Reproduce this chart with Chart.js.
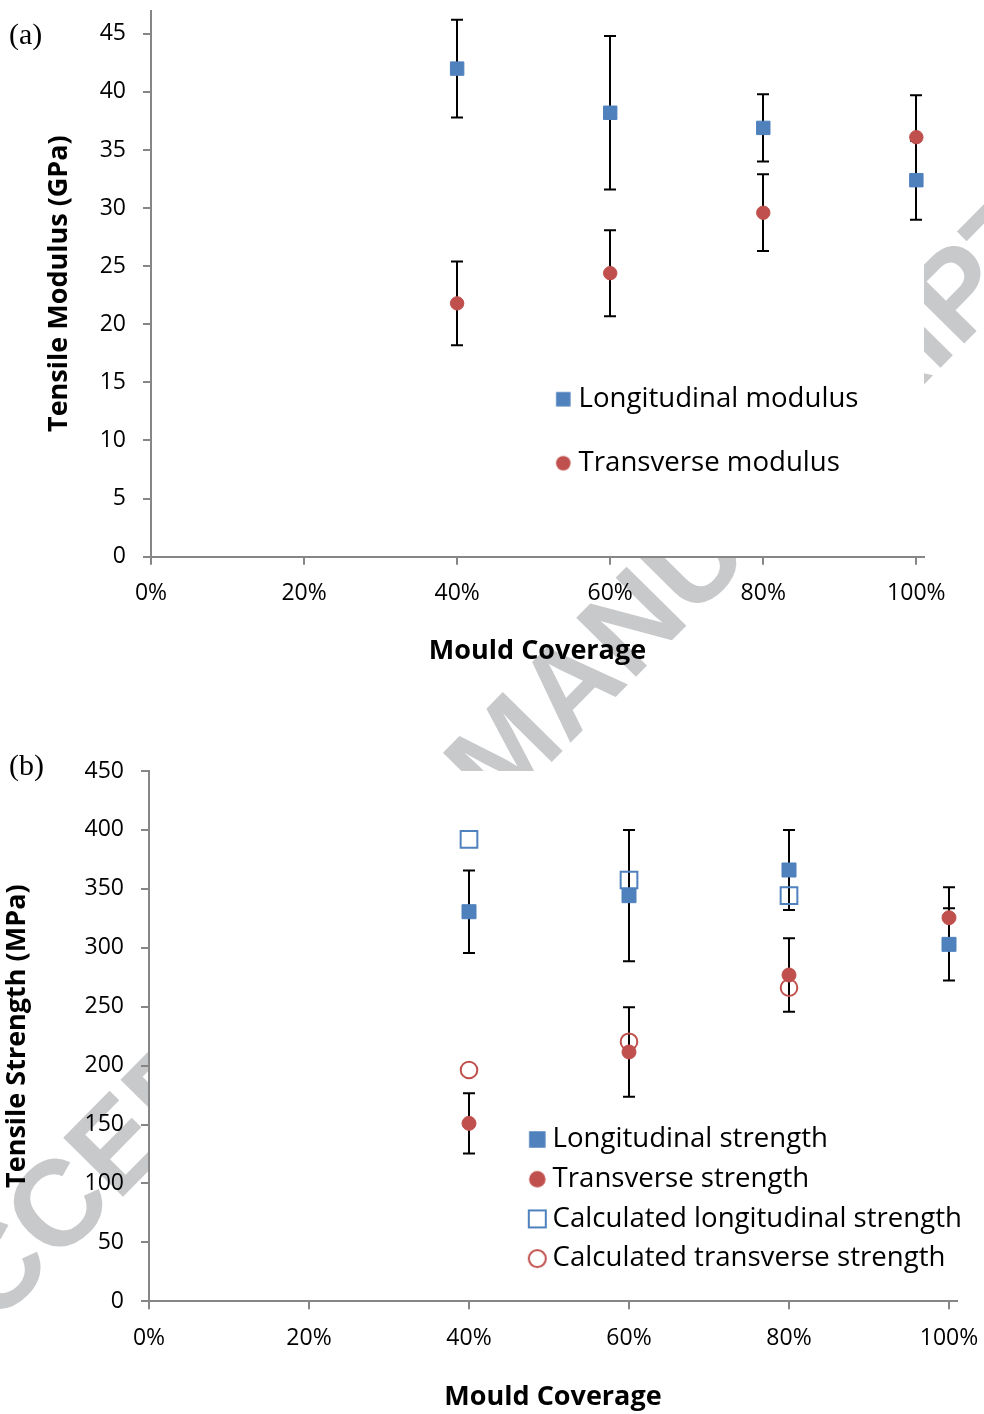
<!DOCTYPE html>
<html>
<head>
<meta charset="utf-8">
<title>Tensile modulus and strength vs mould coverage</title>
<script src="https://cdn.jsdelivr.net/npm/chart.js@4.4.1/dist/chart.umd.min.js"></script>
<style>
  html, body { margin: 0; padding: 0; background: #fff; }
  #page { position: relative; width: 984px; height: 1414px; overflow: hidden; }
  #watermark {
    position: absolute; left: 470px; top: 785px;
    font: bold 122px "Liberation Sans", sans-serif; line-height: 1;
    word-spacing: 100px;
    color: #c8c9cb; white-space: nowrap;
    transform: translate(-50%, -50%) rotate(-45.4deg);
    z-index: 0;
  }
  .panel { position: absolute; left: 0; z-index: 1; display: block; }
  .tag { position: absolute; left: 9px; font: 30px "Liberation Serif", serif; line-height: 1; z-index: 2; }
</style>
</head>
<body>
<div id="page">
  <div id="watermark">ACCEPTED MANUSCRIPT</div>
  <canvas id="modulusChart" class="panel" style="top:0" width="984" height="700"></canvas>
  <canvas id="strengthChart" class="panel" style="top:700px" width="984" height="714"></canvas>
  <div class="tag" style="top:19px">(a)</div>
  <div class="tag" style="top:750px">(b)</div>
</div>
<script>
// mould coverage of each test series
const coverage = [0.4, 0.6, 0.8, 1.0];
const coverageTicks = [0, 0.2, 0.4, 0.6, 0.8, 1.0];

// (a) tensile modulus, GPa
const modulusTicks = [0, 5, 10, 15, 20, 25, 30, 35, 40, 45];
const longModulus = [42.0, 38.2, 36.9, 32.4];
const longModulusErr = [4.2, 6.6, 2.9, 3.4];
const transModulus = [21.8, 24.4, 29.6, 36.1];
const transModulusErr = [3.6, 3.7, 3.3, 3.6];

// (b) tensile strength, MPa
const strengthTicks = [0, 50, 100, 150, 200, 250, 300, 350, 400, 450];
const longStrength = [330.6, 344.2, 366.0, 302.9];
const longStrengthErr = [35, 55.7, 34, 30.6];
const transStrength = [151.0, 211.6, 276.9, 325.5];
const transStrengthErr = [25.5, 38, 31.1, 25.8];
const calcLongStrength = [392.0, 357.5, 344.2, null];
const calcTransStrength = [196.3, 220.3, 266.1, null];

const blue = '#4F81BD';
const red = '#C0504D';
const axisGrey = '#868686';
const legendFontSize = 27.6;

Chart.defaults.font.family = '"Open Sans", sans-serif';
Chart.defaults.color = '#000';

function points(values) {
  return coverage
    .map((x, i) => ({ x: x, y: values[i] }))
    .filter(p => p.y !== null);
}

// small canvases used as legend symbols so their size can be set exactly
function marker(shape, size, fill, stroke, lineWidth) {
  const c = document.createElement('canvas');
  c.width = c.height = Math.ceil(size) + 2;
  const g = c.getContext('2d');
  const m = c.width / 2;
  const h = size / 2 - (lineWidth || 0) / 2;
  g.beginPath();
  if (shape === 'rect') g.rect(m - h, m - h, 2 * h, 2 * h);
  else g.arc(m, m, h, 0, Math.PI * 2);
  if (fill) { g.fillStyle = fill; g.fill(); }
  if (lineWidth) { g.lineWidth = lineWidth; g.strokeStyle = stroke; g.stroke(); }
  return c;
}

// white plot area over the watermark
const plotBackground = {
  id: 'plotBackground',
  beforeDraw(chart) {
    const { ctx, chartArea: a } = chart;
    ctx.save();
    ctx.fillStyle = '#fff';
    ctx.fillRect(a.left, a.top, a.right - a.left, a.bottom - a.top);
    ctx.restore();
  }
};

// vertical error bars with caps, drawn below the markers
const errorBars = {
  id: 'errorBars',
  beforeDatasetsDraw(chart) {
    const { ctx, scales: { x, y } } = chart;
    ctx.save();
    ctx.strokeStyle = '#000';
    ctx.lineWidth = 2;
    chart.data.datasets.forEach(ds => {
      if (!ds.errors) return;
      ds.data.forEach((p, i) => {
        const px = Math.round(x.getPixelForValue(p.x));
        const top = y.getPixelForValue(p.y + ds.errors[i]);
        const bottom = y.getPixelForValue(p.y - ds.errors[i]);
        ctx.beginPath();
        ctx.moveTo(px, top);
        ctx.lineTo(px, bottom);
        ctx.moveTo(px - 6, top);
        ctx.lineTo(px + 6, top);
        ctx.moveTo(px - 6, bottom);
        ctx.lineTo(px + 6, bottom);
        ctx.stroke();
      });
    });
    ctx.restore();
  }
};

// move the legend box (laid out in the chart area) to where the figure has it
function legendPlacer(markerX, firstY, padding, boxWidth) {
  return {
    id: 'legendPlacer',
    afterLayout(chart) {
      const lg = chart.legend;
      lg.left = markerX - padding - boxWidth / 2;
      lg.top = firstY - padding - legendFontSize / 2;
      lg.right = chart.width;
      lg.bottom = chart.height;
    }
  };
}

function legendOptions(symbols, padding) {
  return {
    position: 'chartArea',
    align: 'start',
    labels: {
      usePointStyle: true,
      boxWidth: 3,
      padding: padding,
      color: '#000',
      font: { size: legendFontSize },
      generateLabels: chart => Chart.defaults.plugins.legend.labels.generateLabels(chart)
        .map((item, i) => Object.assign(item, { pointStyle: symbols[i] }))
    }
  };
}

function xAxis(height, titlePadding) {
  return {
    type: 'linear',
    min: 0,
    max: 1.01,
    afterBuildTicks: s => { s.ticks = coverageTicks.map(v => ({ value: v })); },
    afterFit: s => { s.height = height; s.paddingLeft = 0; s.paddingRight = 0; },
    ticks: { padding: 15, font: { size: 23 }, callback: v => Math.round(v * 100) + '%' },
    grid: { drawOnChartArea: false, tickLength: 8, color: axisGrey, lineWidth: 2 },
    border: { color: axisGrey, width: 2 },
    title: {
      display: true,
      text: 'Mould Coverage',
      font: { size: 27, weight: 'bold' },
      padding: { top: 0, bottom: titlePadding }
    }
  };
}

function yAxis(max, tickValues, width, titleText, titlePadding) {
  return {
    min: 0,
    max: max,
    afterBuildTicks: s => { s.ticks = tickValues.map(v => ({ value: v })); },
    afterFit: s => { s.width = width; s.paddingTop = 0; s.paddingBottom = 0; },
    ticks: { padding: 17, font: { size: 23 } },
    grid: { drawOnChartArea: false, tickLength: 8, color: axisGrey, lineWidth: 2 },
    border: { color: axisGrey, width: 2 },
    title: {
      display: true,
      text: titleText,
      font: { size: 27, weight: 'bold' },
      padding: { top: titlePadding, bottom: 0 }
    }
  };
}

const modulusSymbols = [
  marker('rect', 14.5, blue),
  marker('circle', 14.5, red)
];

new Chart(document.getElementById('modulusChart'), {
  type: 'scatter',
  data: {
    datasets: [
      {
        label: 'Longitudinal modulus',
        data: points(longModulus),
        errors: longModulusErr,
        pointStyle: 'rect',
        pointRadius: 9.5,
        backgroundColor: blue,
        borderColor: blue,
        borderWidth: 1
      },
      {
        label: 'Transverse modulus',
        data: points(transModulus),
        errors: transModulusErr,
        pointStyle: 'circle',
        pointRadius: 6.7,
        backgroundColor: red,
        borderColor: red,
        borderWidth: 1
      }
    ]
  },
  options: {
    responsive: false,
    animation: false,
    layout: { padding: { left: 0, top: 8, right: 60, bottom: 0 } },
    plugins: {
      legend: legendOptions(modulusSymbols, 36.4),
      tooltip: { enabled: false }
    },
    scales: {
      x: xAxis(143.3, 32),
      y: yAxis(47, modulusTicks, 151, 'Tensile Modulus (GPa)', 43)
    }
  },
  plugins: [plotBackground, errorBars, legendPlacer(563.3, 399.2, 36.4, 3)]
});

const strengthSymbols = [
  marker('rect', 16.5, blue),
  marker('circle', 16.5, red),
  marker('rect', 19, null, blue, 2),
  marker('circle', 19, null, red, 2)
];

new Chart(document.getElementById('strengthChart'), {
  type: 'scatter',
  data: {
    datasets: [
      {
        label: 'Longitudinal strength',
        data: points(longStrength),
        errors: longStrengthErr,
        pointStyle: 'rect',
        pointRadius: 9.9,
        backgroundColor: blue,
        borderColor: blue,
        borderWidth: 1
      },
      {
        label: 'Transverse strength',
        data: points(transStrength),
        errors: transStrengthErr,
        pointStyle: 'circle',
        pointRadius: 7,
        backgroundColor: red,
        borderColor: red,
        borderWidth: 1
      },
      {
        label: 'Calculated longitudinal strength',
        data: points(calcLongStrength),
        pointStyle: 'rect',
        pointRadius: 11.8,
        backgroundColor: 'rgba(0,0,0,0)',
        borderColor: blue,
        borderWidth: 2
      },
      {
        label: 'Calculated transverse strength',
        data: points(calcTransStrength),
        pointStyle: 'circle',
        pointRadius: 8.3,
        backgroundColor: 'rgba(0,0,0,0)',
        borderColor: red,
        borderWidth: 2
      }
    ]
  },
  options: {
    responsive: false,
    animation: false,
    layout: { padding: { left: 0, top: 71, right: 27, bottom: 0 } },
    plugins: {
      legend: legendOptions(strengthSymbols, 12.1),
      tooltip: { enabled: false }
    },
    scales: {
      x: xAxis(112.7, 0),
      y: yAxis(450, strengthTicks, 149, 'Tensile Strength (MPa)', 1.3)
    }
  },
  plugins: [plotBackground, errorBars, legendPlacer(537.3, 439.5, 12.1, 3)]
});
</script>
</body>
</html>
